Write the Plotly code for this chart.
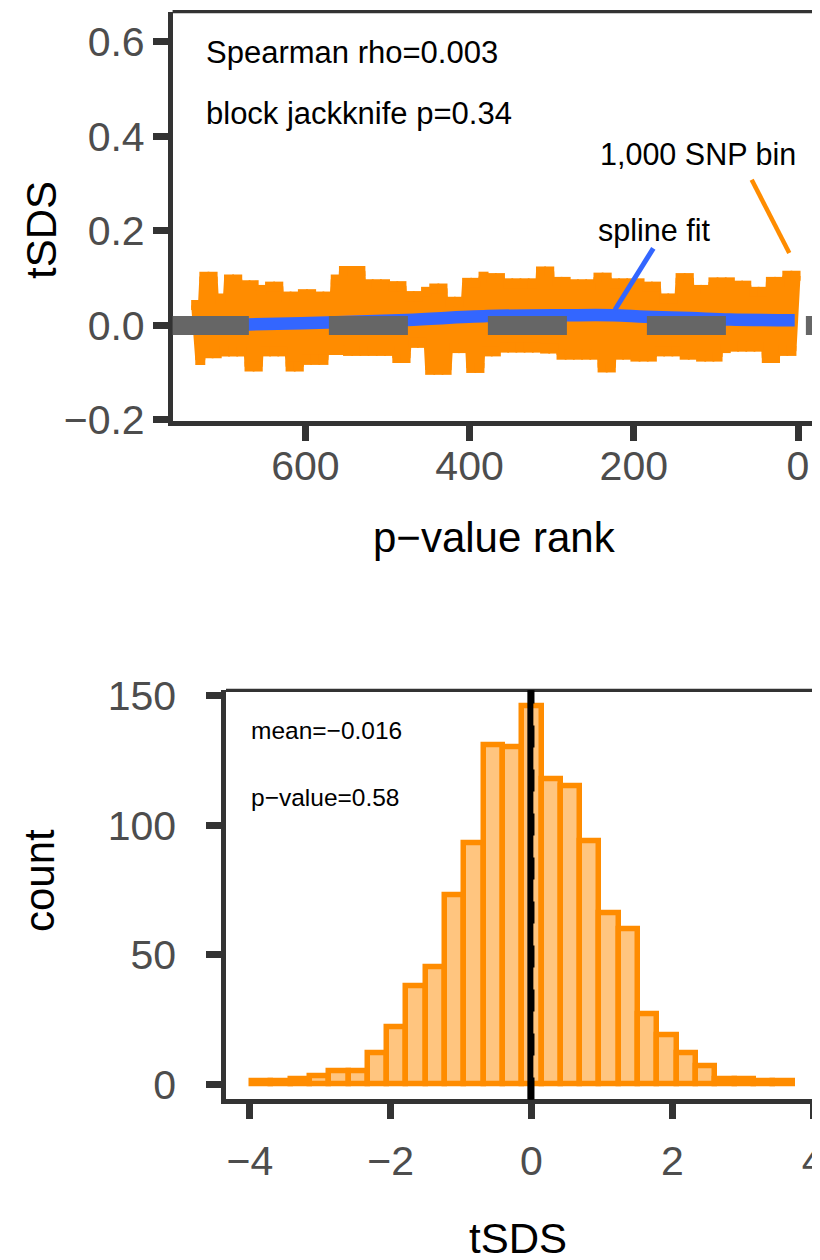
import plotly.graph_objects as go

# page body adds an 8px margin: figure is sized/offset so that reference pixel p maps to figure pixel p-8
OFF = 8
W, H = 812, 1252
FONT = "Liberation Sans, Arial, Helvetica, sans-serif"

# ---------------- data: top panel (tSDS vs p-value rank) ----------------
bin_rank = list(range(733, 2, -5))
bin_tsds = [
    0.043, -0.073, 0.103, -0.059, 0.103, -0.059, 0.057, -0.055, 0.097, -0.055,
    0.097, -0.055, 0.085, -0.087, 0.085, -0.087, 0.075, -0.055, 0.082, -0.055,
    0.082, -0.055, 0.061, -0.087, 0.061, -0.087, 0.066, -0.073, 0.066, -0.073,
    0.061, -0.073, 0.061, -0.052, 0.097, -0.052, 0.115, -0.054, 0.115, -0.054,
    0.115, -0.054, 0.087, -0.054, 0.087, -0.054, 0.087, -0.054, 0.083, -0.069,
    0.083, -0.069, 0.062, -0.037, 0.062, -0.037, 0.071, -0.094, 0.078, -0.094,
    0.078, -0.094, 0.050, -0.048, 0.050, -0.048, 0.090, -0.090, 0.090, -0.090,
    0.103, -0.055, 0.100, -0.055, 0.100, -0.047, 0.089, -0.047, 0.089, -0.047,
    0.089, -0.047, 0.089, -0.047, 0.114, -0.049, 0.114, -0.049, 0.092, -0.062,
    0.092, -0.062, 0.087, -0.062, 0.087, -0.062, 0.087, -0.062, 0.101, -0.089,
    0.101, -0.089, 0.089, -0.062, 0.089, -0.062, 0.089, -0.066, 0.089, -0.066,
    0.082, -0.066, 0.082, -0.055, 0.057, -0.055, 0.057, -0.055, 0.100, -0.062,
    0.100, -0.062, 0.075, -0.066, 0.075, -0.066, 0.091, -0.066, 0.091, -0.048,
    0.091, -0.045, 0.084, -0.045, 0.084, -0.045, 0.071, -0.045, 0.071, -0.069,
    0.092, -0.069, 0.092, -0.054, 0.105, -0.054, 0.105,
]
spline_rank = [733, 669, 573, 476, 378, 282, 225, 186, 131, 83, 4]
spline_tsds = [-0.001, 0.002, 0.006, 0.0116, 0.0197, 0.0215, 0.0215, 0.0183, 0.0155, 0.0125, 0.011]
top_xticks = [0, 200, 400, 600]
top_yticks = [-0.2, 0.0, 0.2, 0.4, 0.6]
top_yticklabels = ["\u22120.2", "0.0", "0.2", "0.4", "0.6"]
spearman_text = "Spearman rho=0.003"
jackknife_text = "block jackknife p=0.34"
bin_label = "1,000 SNP bin"
spline_label = "spline fit"
bin_pointer = [(56.4, 0.308), (10.6, 0.153)]
spline_pointer = [(176.2, 0.163), (222.9, 0.033)]

# ---------------- data: bottom panel (histogram of tSDS) ----------------
hist_bin_start = -3.97
hist_bin_width = 0.2742
hist_counts = [1, 1, 2, 3, 5, 5, 12, 22, 38, 45, 73, 93, 131, 130, 146,
               118, 115, 94, 66, 60, 27, 19, 12, 7, 2, 2, 1, 1]
tsds_mean = -0.016
null_value = 0.0
bottom_xticks = [-4, -2, 0, 2, 4]
bottom_yticks = [0, 50, 100, 150]
mean_text = "mean=\u22120.016"
pval_text = "p\u2212value=0.58"

# ---------------- styles ----------------
ORANGE = "#FF8C00"
ORANGE_FILL = "rgba(255,140,0,0.5)"
BLUE = "#3366FF"
GREY = "#666666"
AXIS = "#333333"
TICKTXT = "#4D4D4D"

hist_centers = [hist_bin_start + hist_bin_width * (k + 0.5) for k in range(len(hist_counts))]

fig = go.Figure()

fig.add_trace(go.Scatter(
    x=bin_rank, y=bin_tsds, mode="lines+markers", xaxis="x", yaxis="y",
    line=dict(color=ORANGE, width=10),
    marker=dict(symbol="square", size=10, color=ORANGE, line=dict(width=0)),
    hoverinfo="skip",
))
fig.add_trace(go.Scatter(
    x=spline_rank, y=spline_tsds, mode="lines", xaxis="x", yaxis="y",
    line=dict(color=BLUE, width=12.5, shape="spline", smoothing=1.0),
    hoverinfo="skip",
))
fig.add_trace(go.Bar(
    x=hist_centers, y=hist_counts, width=hist_bin_width, xaxis="x2", yaxis="y2",
    marker=dict(color=ORANGE_FILL, line=dict(color=ORANGE, width=5.5)),
    hoverinfo="skip",
))

def dom_x(px):
    return (px - OFF) / W

def dom_y(py):
    return 1 - (py - OFF) / H

axis_common = dict(
    showline=True, linewidth=4.5, linecolor=AXIS, mirror=False,
    ticks="outside", ticklen=15, tickwidth=6.5, tickcolor=AXIS,
    showgrid=False, zeroline=False, automargin=False,
    ticklabeloverflow="allow",
    tickfont=dict(family=FONT, size=41, color=TICKTXT),
)

fig.update_layout(
    width=W, height=H,
    margin=dict(l=0, r=0, t=0, b=0),
    paper_bgcolor="white", plot_bgcolor="white",
    showlegend=False, hovermode=False, bargap=0,
    xaxis=dict(domain=[dom_x(172.6), 1], range=[761.7, -26.8], anchor="y",
               tickvals=top_xticks, ticklabelstandoff=-10, **axis_common),
    yaxis=dict(domain=[dom_y(421.0), dom_y(11.7)], range=[-0.2022, 0.6634], anchor="x",
               tickvals=top_yticks, ticktext=top_yticklabels, ticklabelstandoff=0, **axis_common),
    xaxis2=dict(domain=[dom_x(226.0), 1], range=[-4.339, 4.098], anchor="y2",
                tickvals=bottom_xticks, ticklabelstandoff=7, **axis_common),
    yaxis2=dict(domain=[dom_y(1099.4), dom_y(690.3)], range=[-5.89, 152.2], anchor="x2",
                tickvals=bottom_yticks, ticklabelstandoff=22, **axis_common),
)

shapes = [
    # horizontal dashed reference line at 0 (top panel)
    dict(type="line", xref="x", yref="y", x0=765, x1=-30, y0=0, y1=0,
         line=dict(color=GREY, width=19, dash="79px,80px"), layer="above"),
    # pointer lines
    dict(type="line", xref="x", yref="y",
         x0=bin_pointer[0][0], y0=bin_pointer[0][1], x1=bin_pointer[1][0], y1=bin_pointer[1][1],
         line=dict(color=ORANGE, width=4.5)),
    dict(type="line", xref="x", yref="y",
         x0=spline_pointer[0][0], y0=spline_pointer[0][1], x1=spline_pointer[1][0], y1=spline_pointer[1][1],
         line=dict(color=BLUE, width=5)),
    # top borders of panels
    dict(type="line", xref="x domain", yref="y domain", x0=0, x1=1, y0=1, y1=1,
         line=dict(color=AXIS, width=3.3)),
    dict(type="line", xref="x2 domain", yref="y2 domain", x0=0, x1=1, y0=1, y1=1,
         line=dict(color=AXIS, width=3.3)),
    # histogram reference lines
    dict(type="line", xref="x2", yref="y2 domain", x0=null_value, x1=null_value, y0=0, y1=1,
         line=dict(color="black", width=6, dash="22px,22px")),
    dict(type="line", xref="x2", yref="y2 domain", x0=tsds_mean, x1=tsds_mean, y0=0, y1=1,
         line=dict(color="black", width=6)),
]
fig.update_layout(shapes=shapes)

def ann(text, px, py, size, xanchor="center", yanchor="middle", angle=0, color="black"):
    return dict(text=text, x=(px - OFF) / W, y=1 - (py - OFF) / H, xref="paper", yref="paper",
                showarrow=False, xanchor=xanchor, yanchor=yanchor, textangle=angle,
                font=dict(family=FONT, size=size, color=color))

fig.update_layout(annotations=[
    ann(spearman_text, 204, 53, 31, xanchor="left"),
    ann(jackknife_text, 204, 113, 31, xanchor="left"),
    ann(bin_label, 698, 154, 30.5),
    ann(spline_label, 654, 230, 30.5),
    ann(mean_text, 249, 730, 24.5, xanchor="left"),
    ann(pval_text, 249, 797, 24.5, xanchor="left"),
    ann("tSDS", 41, 230, 42, angle=-90),
    ann("p\u2212value rank", 494, 537, 42),
    ann("count", 39, 881, 42, angle=-90),
    ann("tSDS", 518, 1238, 42),
])

fig.write_html("out.html")
